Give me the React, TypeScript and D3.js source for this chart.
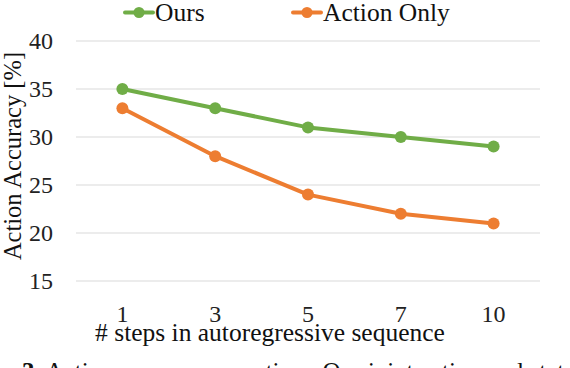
import React from "react";
import * as d3 from "d3";

// chart values
const steps = ["1", "3", "5", "7", "10"];
const ours = [35, 33, 31, 30, 29];
const actionOnly = [33, 28, 24, 22, 21];
const yTicks = [15, 20, 25, 30, 35, 40];

const GREEN = "#70ad47";
const ORANGE = "#ed7d31";
const FONT = "'Liberation Serif', 'Times New Roman', serif";

const W = 570;
const H = 368;

const App = () => {
  // x is a band scale, points sit in the middle of each band
  const xScale = d3.scaleBand<string>().domain(steps).range([76, 540]).padding(0);
  const xMid = (s: string) => (xScale(s) as number) + xScale.bandwidth() / 2;

  const yScale = d3.scaleLinear().domain([15, 40]).range([281, 41]);

  const series = [
    { name: "Ours", values: ours, color: GREEN },
    { name: "Action Only", values: actionOnly, color: ORANGE },
  ];

  const line = d3
    .line<number>()
    .x((_, i) => xMid(steps[i]))
    .y((d) => yScale(d));

  // legend positions (left end of the marker line)
  const legendX = [124, 292];

  return (
    <svg
      width={W}
      height={H}
      style={{ position: "absolute", left: 0, top: 0, background: "#fff" }}
      fontFamily={FONT}
    >
      {/* gridlines */}
      {yTicks.map((t) => (
        <line
          key={"g" + t}
          x1={76}
          x2={540}
          y1={yScale(t)}
          y2={yScale(t)}
          stroke="#d9d9d9"
          strokeWidth={1.2}
        />
      ))}

      {/* y tick labels */}
      {yTicks.map((t) => (
        <text
          key={"yt" + t}
          x={53}
          y={yScale(t) + 8}
          textAnchor="end"
          fontSize={24}
          fill="#222"
        >
          {t}
        </text>
      ))}

      {/* x tick labels */}
      {steps.map((s) => (
        <text key={"xt" + s} x={xMid(s)} y={322} textAnchor="middle" fontSize={24} fill="#222">
          {s}
        </text>
      ))}

      {/* axis titles */}
      <text x={270} y={341} textAnchor="middle" fontSize={25.5} fill="#111">
        # steps in autoregressive sequence
      </text>
      <text
        transform={`translate(21,156) rotate(-90)`}
        textAnchor="middle"
        fontSize={24.5}
        fill="#111"
      >
        Action Accuracy [%]
      </text>

      {/* series */}
      {series.map((s) => (
        <g key={s.name}>
          <path
            d={line(s.values) || ""}
            fill="none"
            stroke={s.color}
            strokeWidth={4}
            strokeLinejoin="round"
          />
          {s.values.map((v, i) => (
            <circle key={i} cx={xMid(steps[i])} cy={yScale(v)} r={6} fill={s.color} />
          ))}
        </g>
      ))}

      {/* legend */}
      {series.map((s, i) => (
        <g key={"lg" + s.name} transform={`translate(${legendX[i]},12.5)`}>
          <line x1={1} x2={29} y1={0} y2={0} stroke={s.color} strokeWidth={4} strokeLinecap="round" />
          <circle cx={15} cy={0} r={5.5} fill={s.color} />
          <text x={31} y={8.5} fontSize={25.5} fill="#111">
            {s.name}
          </text>
        </g>
      ))}

      {/* caption, cut off by the bottom edge */}
      <text x={22} y={380} fontSize={25} fill="#111">
        <tspan fontWeight="bold">3.</tspan> Action accuracy over time. Our joint action and state
      </text>
    </svg>
  );
};

export default App;
